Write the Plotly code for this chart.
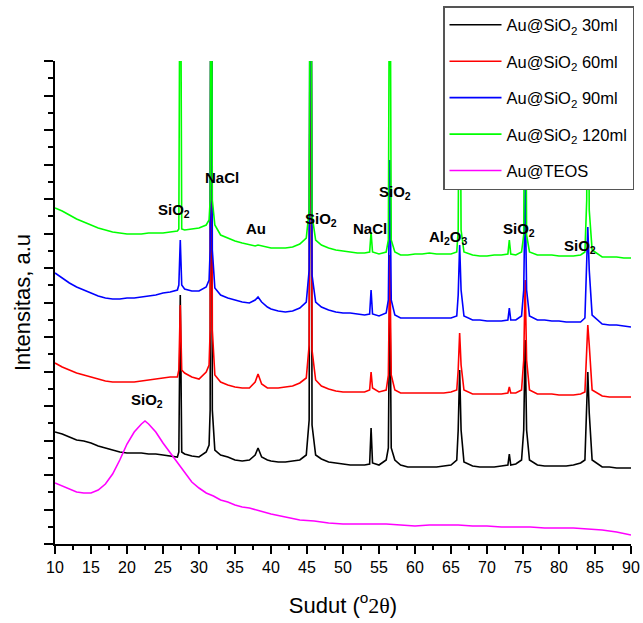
import plotly.graph_objects as go

# Diffraction angle grid (degrees 2-theta) shared by the Au@SiO2 samples
two_theta = [
    10, 11, 12, 13, 14, 15, 16, 17, 18, 19,
    20, 21, 22, 23, 24, 25, 26, 27, 27.2, 27.4, 27.6,
    28, 29, 30, 31, 31.4, 31.55, 31.7, 31.85, 32.2,
    33, 34, 35, 36, 37, 37.8, 38.2, 38.7,
    39.5, 40, 41, 42, 43, 44, 44.9,
    45.3, 45.5, 45.7, 46.2, 47, 48, 49, 50, 51, 52, 53,
    53.7, 53.9, 54.1, 55, 56, 56.3, 56.5, 56.7, 57.2,
    58, 59, 60, 61, 62, 63, 64, 65,
    65.8, 66.0, 66.2, 66.4, 66.8, 68, 69, 70, 71, 72,
    72.9, 73.1, 73.3, 74, 74.8, 75.1, 75.3, 75.5, 75.9,
    77, 78, 79, 80, 81, 82, 83,
    83.6, 83.85, 84.0, 84.2, 84.6, 86, 87, 88, 89, 90,
]

# Stacked intensities (a.u.), each pattern offset vertically
au_sio2_30ml = [
    112, 110, 107, 104, 103, 101, 98, 96, 94, 92,
    91, 91, 91, 90, 90, 89, 88, 87, 92, 249, 92,
    90, 88, 87, 92, 99, 134, 800, 134, 94,
    89, 87, 84, 83, 84, 89, 96, 87,
    84, 83, 82, 82, 83, 84, 89,
    124, 800, 119, 89, 85, 82, 81, 80, 79, 79, 79,
    80, 116, 81, 79, 84, 96, 264, 96, 84,
    79, 77, 77, 77, 77, 77, 78, 79,
    84, 114, 174, 114, 82, 78, 77, 77, 77, 78,
    79, 90, 79, 80, 84, 114, 204, 114, 84,
    79, 78, 78, 78, 78, 79, 81,
    84, 131, 172, 131, 84, 77, 77, 76, 76, 76,
]

au_sio2_60ml = [
    181, 177, 174, 171, 169, 167, 165, 163, 162, 162,
    162, 162, 163, 164, 165, 166, 167, 167, 174, 239, 174,
    171, 167, 165, 172, 179, 214, 800, 214, 169,
    162, 159, 157, 156, 156, 162, 170, 160,
    156, 156, 156, 157, 158, 161, 166,
    199, 800, 194, 164, 158, 155, 153, 152, 152, 152, 152,
    154, 172, 156, 152, 154, 169, 289, 169, 154,
    151, 151, 151, 151, 151, 151, 151, 152,
    154, 174, 211, 179, 154, 150, 150, 150, 150, 150,
    151, 157, 151, 151, 154, 184, 264, 184, 154,
    150, 150, 150, 149, 149, 149, 150,
    152, 194, 219, 199, 154, 148, 147, 147, 147, 147,
]

au_sio2_90ml = [
    271, 266, 261, 257, 254, 251, 248, 246, 245, 245,
    246, 246, 247, 248, 249, 251, 252, 254, 259, 304, 259,
    255, 253, 253, 257, 264, 294, 800, 294, 256,
    249, 246, 244, 242, 241, 244, 247, 242,
    237, 235, 233, 232, 233, 236, 242,
    274, 800, 269, 242, 237, 234, 232, 231, 231, 230, 229,
    230, 254, 230, 228, 231, 244, 384, 244, 229,
    226, 226, 226, 226, 226, 226, 226, 226,
    228, 249, 299, 254, 228, 224, 224, 223, 223, 223,
    224, 236, 224, 224, 228, 254, 354, 254, 228,
    224, 224, 223, 223, 222, 222, 222,
    226, 284, 317, 274, 229, 220, 219, 219, 218, 217,
]

au_sio2_120ml = [
    336, 333, 329, 325, 322, 319, 316, 314, 312, 311,
    310, 310, 310, 311, 311, 311, 312, 313, 315, 700, 315,
    314, 315, 316, 319, 324, 344, 800, 344, 319,
    309, 306, 303, 301, 299, 298, 299, 298,
    297, 296, 296, 296, 297, 300, 306,
    334, 800, 329, 304, 299, 296, 294, 293, 292, 291, 291,
    292, 312, 292, 290, 292, 304, 700, 304, 292,
    289, 289, 290, 290, 291, 290, 290, 290,
    292, 314, 600, 314, 292, 289, 288, 288, 289, 289,
    290, 304, 290, 289, 292, 309, 600, 309, 292,
    289, 289, 289, 288, 288, 288, 289,
    292, 344, 600, 334, 294, 287, 287, 287, 286, 286,
]

# Amorphous TEOS-derived silica
teos_theta = [
    10, 11, 12, 13, 14, 15, 16, 17, 18, 19, 20, 21, 22, 22.5, 23, 24, 25,
    26, 27, 28, 29, 30, 31, 32, 33, 34, 35, 36, 37, 38, 39, 40, 42, 44,
    46, 48, 50, 52, 54, 56, 58, 60, 62, 64, 66, 68, 70, 72, 74, 76, 78,
    80, 82, 84, 86, 88, 90,
]
au_teos = [
    61, 58, 55, 52, 51, 51, 54, 60, 70, 84, 100, 112, 120, 123, 120, 112, 101,
    91, 81, 71, 62, 56, 51, 48, 44, 42, 39, 37, 36, 34, 32, 30, 27, 24,
    23, 21, 20, 20, 20, 20, 19, 18, 19, 19, 19, 18, 18, 17, 17, 17, 16,
    16, 16, 15, 14, 12, 9,
]

series_names = [
    "Au@SiO<sub>2</sub> 30ml",
    "Au@SiO<sub>2</sub> 60ml",
    "Au@SiO<sub>2</sub> 90ml",
    "Au@SiO<sub>2</sub> 120ml",
    "Au@TEOS",
]
x_ticks = [10, 15, 20, 25, 30, 35, 40, 45, 50, 55, 60, 65, 70, 75, 80, 85, 90]

# Phase assignments
phase_labels = ["SiO<sub>2</sub>", "NaCl", "Au", "SiO<sub>2</sub>", "NaCl",
                "SiO<sub>2</sub>", "Al<sub>2</sub>O<sub>3</sub>", "SiO<sub>2</sub>",
                "SiO<sub>2</sub>", "SiO<sub>2</sub>"]

FONT = "Arial, Liberation Sans, sans-serif"
colors = ["#000000", "#ff0000", "#0000ff", "#00ff00", "#ff00ff"]
ys = [au_sio2_30ml, au_sio2_60ml, au_sio2_90ml, au_sio2_120ml, au_teos]
xs = [two_theta] * 4 + [teos_theta]

fig = go.Figure()
for name, x, y, c in zip(series_names, xs, ys, colors):
    fig.add_trace(go.Scatter(
        x=x, y=y, mode="lines", name=name, legendgroup=name,
        line=dict(color=c, width=1.6),
    ))

label_pos = [(26.5, 334), (33.2, 367), (37.9, 316), (46.9, 325), (53.75, 316),
             (57.2, 352), (64.6, 307), (74.4, 315), (82.9, 298), (22.8, 144)]
for txt, (lx, ly) in zip(phase_labels, label_pos):
    fig.add_annotation(x=lx, y=ly, xref="x", yref="y", text=f"<b>{txt}</b>",
                       showarrow=False, font=dict(family=FONT, size=15, color="black"))

fig.update_layout(
    width=643, height=623,
    margin=dict(l=55, r=12, t=61, b=79, autoexpand=False),
    paper_bgcolor="white", plot_bgcolor="white",
    font=dict(family=FONT, color="black"),
    showlegend=True,
    legend=dict(
        x=(443 - 55) / 576, y=(544 - 6) / 483, xanchor="left", yanchor="top",
        bgcolor="white", bordercolor="#555555", borderwidth=1.5,
        font=dict(family=FONT, size=16.5), itemwidth=52,
        traceorder="grouped", tracegroupgap=12,
    ),
    xaxis=dict(
        range=[10, 90], tickvals=x_ticks, ticks="outside", ticklen=8, tickwidth=1.5,
        tickcolor="black", tickfont=dict(size=16),
        minor=dict(dtick=2.5, tick0=10, ticks="outside", ticklen=4, tickwidth=1.5, tickcolor="black"),
        showline=True, linecolor="black", linewidth=2, showgrid=False, zeroline=False,
        title=dict(text='Sudut (<sup>o</sup><span style="font-family:Liberation Serif, Times New Roman, serif">2θ</span>)',
                   font=dict(size=22), standoff=22),
    ),
    yaxis=dict(
        range=[0, 483], tick0=0, dtick=34.5, ticks="outside", ticklen=9, tickwidth=1.5,
        tickcolor="black", showticklabels=False,
        minor=dict(dtick=17.25, tick0=0, ticks="outside", ticklen=5, tickwidth=1.5, tickcolor="black"),
        showline=True, linecolor="black", linewidth=2, showgrid=False, zeroline=False,
        title=dict(text="Intensitas, a.u", font=dict(size=22), standoff=7),
    ),
)

fig.write_html("out.html")
